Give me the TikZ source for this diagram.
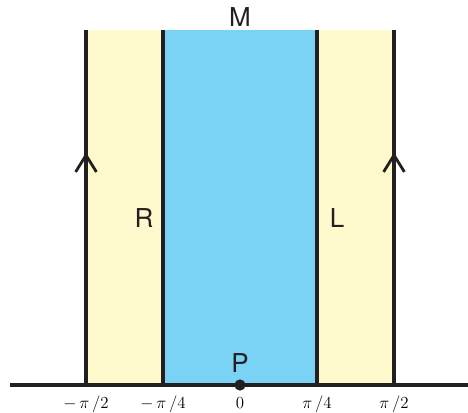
\documentclass[tikz,border=0pt]{standalone}
\usepackage{fontspec}
\setsansfont{TeX Gyre Heros}
\usetikzlibrary{positioning,arrows.meta,decorations.markings}

\definecolor{stripyellow}{RGB}{255,250,205}
\definecolor{stripblue}{RGB}{122,210,245}
\definecolor{inkline}{RGB}{35,31,32}

\begin{document}
\begin{tikzpicture}[x=1.925cm, y=1.925cm, >=stealth,
  wall/.style={line width=2.8pt, inkline},
  upmark/.style={postaction={decorate}, decoration={markings,
    mark=at position 0.655 with {\arrow{Straight Barb[length=4.2mm, width=5.2mm, line width=2pt]}}}},
  letter/.style={font=\sffamily\fontsize{18.5}{22}\selectfont, text=inkline, anchor=base, inner sep=0pt},
  tick/.style={font=\fontsize{12.5}{15}\selectfont, anchor=base, inner sep=0pt}]

  % fix the page to the reference frame
  \useasboundingbox (-3.117,-0.351) rectangle (2.961,5.0);

  % base and top points of the four walls
  \coordinate (Lout) at (-2,0);  \coordinate (Louttop) at (-2,4.61);
  \coordinate (Lin)  at (-1,0);  \coordinate (Lintop)  at (-1,4.61);
  \coordinate (Rin)  at (1,0);   \coordinate (Rintop)  at (1,4.61);
  \coordinate (Rout) at (2,0);   \coordinate (Routtop) at (2,4.61);

  % coloured strips
  \fill[stripyellow] (Lout) rectangle (Lintop);
  \fill[stripblue]   (Lin)  rectangle (Rintop);
  \fill[stripyellow] (Rin)  rectangle (Routtop);

  % walls, outer ones with an upward arrow
  \draw[wall, upmark] (Lout) -- (Louttop);
  \draw[wall] (Lin) -- (Lintop);
  \draw[wall] (Rin) -- (Rintop);
  \draw[wall, upmark] (Rout) -- (Routtop);

  % axis
  \coordinate (axisL) at (-2.987,0);
  \coordinate (axisR) at (2.961,0);
  \draw[wall] (axisL) -- (axisR);
  \node[circle, fill=inkline, inner sep=0pt, minimum size=8pt] (origin) at (0,0) {};

  % region letters
  \node[letter] (M) at (0,4.66) {M};
  \node[letter] (R) at (-1.247,2.04) {R};
  \node[letter] (L) at (1.26,2.04) {L};
  \node[letter] (P) at (0,0.156) {P};

  % tick labels
  \foreach \x/\lab/\name in {-2/{-\,\pi\,/2}/tA, -1/{-\,\pi\,/4}/tB, 0/{0}/tC, 1/{\pi\,/4}/tD, 2/{\pi\,/2}/tE}
    \node[tick] (\name) at (\x,-0.3) {$\lab$};

\end{tikzpicture}
\end{document}
